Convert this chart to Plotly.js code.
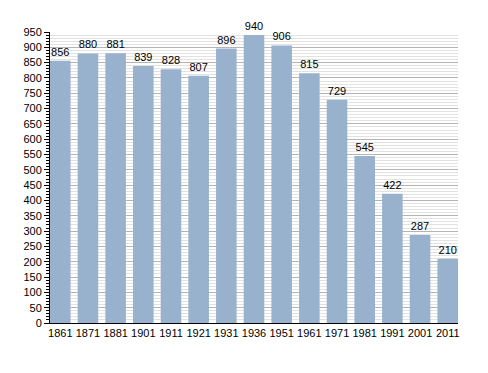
<!DOCTYPE html>
<html>
<head>
<meta charset="utf-8">
<script src="https://cdn.plot.ly/plotly-3.0.1.min.js"></script>
<style>html,body{margin:0;padding:0;background:#fff;}#chart{width:488px;height:373px;}</style>
</head>
<body>
<div id="chart"></div>
<script>
const years = ["1861","1871","1881","1901","1911","1921","1931","1936","1951","1961","1971","1981","1991","2001","2011"];
const population = [856,880,881,839,828,807,896,940,906,815,729,545,422,287,210];
const yTicks = [0,50,100,150,200,250,300,350,400,450,500,550,600,650,700,750,800,850,900,950];

const data = [{
  type: 'bar',
  x: years,
  y: population,
  marker: {color: '#98b1cd', line: {width: 0}},
  text: population.map(String),
  textposition: 'outside',
  textfont: {family: 'Liberation Sans, Arial, sans-serif', size: 11, color: '#000'},
  cliponaxis: false,
  hoverinfo: 'none'
}];

const layout = {
  width: 488, height: 373,
  margin: {l: 50, r: 30, t: 32, b: 50},
  paper_bgcolor: '#fff', plot_bgcolor: '#fff',
  bargap: 0.257,
  showlegend: false,
  font: {family: 'Liberation Sans, Arial, sans-serif', size: 11, color: '#000'},
  xaxis: {
    type: 'category',
    range: [-0.3715, 14.3715],
    showgrid: false,
    showline: true, linecolor: '#000', linewidth: 1,
    ticks: '', tickfont: {size: 11},
    zeroline: false, fixedrange: true
  },
  yaxis: {
    range: [0, 950],
    tickvals: yTicks,
    ticktext: yTicks.map(String),
    ticks: 'outside', ticklen: 5, tickcolor: '#000', tickwidth: 1,
    showline: true, linecolor: '#000', linewidth: 1,
    showgrid: true, gridcolor: '#b4b4b4', gridwidth: 1,
    minor: {dtick: 10, tick0: 0, ticks: 'outside', ticklen: 3, tickcolor: '#000', showgrid: true, gridcolor: '#e2e2e2', gridwidth: 1},
    zeroline: false,
    tickfont: {size: 11},
    fixedrange: true
  }
};

Plotly.newPlot('chart', data, layout, {displayModeBar: false, staticPlot: true});
</script>
</body>
</html>
